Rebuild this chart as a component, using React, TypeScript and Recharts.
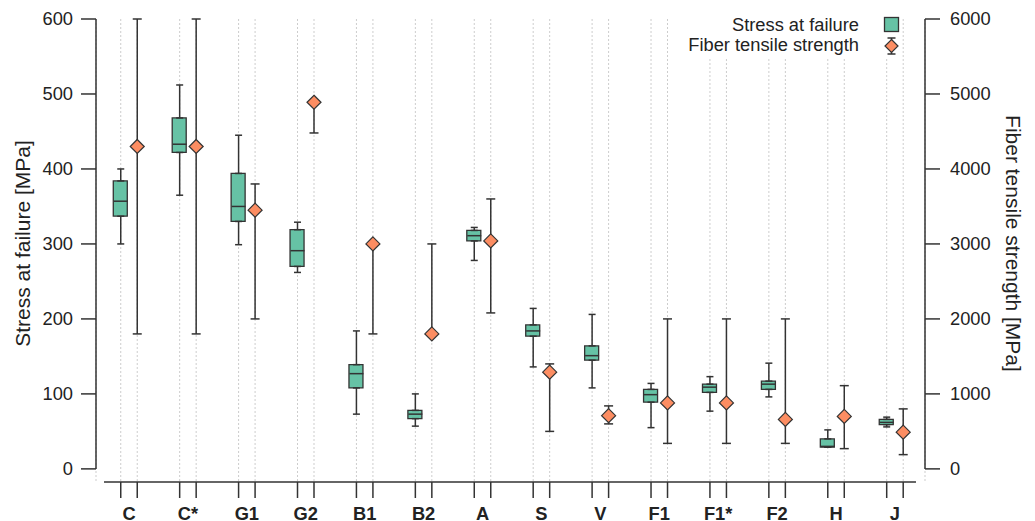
import {
  ComposedChart,
  Bar,
  Scatter,
  ErrorBar,
  XAxis,
  YAxis,
  CartesianGrid,
  ReferenceLine,
} from "recharts"

const categories = ["C", "C*", "G1", "G2", "B1", "B2", "A", "S", "V", "F1", "F1*", "F2", "H", "J"]

// stress at failure [MPa], box plot stats per fiber
const stressMin = [300, 365, 299, 262, 73, 57, 278, 136, 108, 55, 77, 96, 29, 56]
const stressQ1 = [337, 422, 330, 270, 108, 67, 304, 177, 145, 89, 102, 106, 29, 59]
const stressMedian = [357, 433, 350, 291, 127, 73, 311, 184, 151, 99, 109, 113, 30, 62]
const stressQ3 = [384, 468, 394, 319, 139, 78, 318, 192, 164, 106, 113, 117, 40, 66]
const stressMax = [400, 512, 445, 329, 184, 100, 322, 214, 206, 114, 123, 141, 52, 69]

// fiber tensile strength [MPa] with range
const fiberStrength = [4300, 4300, 3450, 4890, 3000, 1800, 3040, 1290, 710, 880, 880, 660, 700, 490]
const fiberLow = [1800, 1800, 2000, 4480, 1800, 1800, 2080, 500, 600, 340, 340, 340, 270, 190]
const fiberHigh = [6000, 6000, 3800, 4890, 3000, 3000, 3600, 1400, 840, 2000, 2000, 2000, 1110, 800]

const stressTicks = [0, 100, 200, 300, 400, 500, 600]
const fiberTicks = [0, 1000, 2000, 3000, 4000, 5000, 6000]

const GREEN = "#66c2a5"
const ORANGE = "#fc8d62"
const INK = "#333"
const TEXT = "#222"

// layout of the x scale (category index units)
const X_DOMAIN: [number, number] = [0.44, 14.51]
const X_LINE: [number, number] = [0.576, 14.357]
const SHIFT = 0.14
const Y_LEFT: [number, number] = [-17.5, 600]
const Y_RIGHT: [number, number] = [-175, 6000]

const rows = categories.map((name, i) => ({
  name,
  xc: i + 1,
  xb: i + 1 - SHIFT,
  xd: i + 1 + SHIFT,
  box: [stressQ1[i], stressQ3[i]],
  q1: stressQ1[i],
  q3: stressQ3[i],
  median: stressMedian[i],
  lowErr: [stressQ1[i] - stressMin[i], 0],
  highErr: [0, stressMax[i] - stressQ3[i]],
  fiber: fiberStrength[i],
  fiberErr: [fiberStrength[i] - fiberLow[i], fiberHigh[i] - fiberStrength[i]],
}))

const subTicks = rows.flatMap(r => [r.xb, r.xd])
const boxTicks = rows.map(r => r.xb)
const catTicks = rows.map(r => r.xc)

const Nothing = () => <g />

const MedianLine = (props: any) => {
  const { cx, cy } = props
  return <line x1={cx - 7} x2={cx + 7} y1={cy} y2={cy} stroke={INK} strokeWidth={1.5} />
}

const Diamond = (props: any) => {
  const { cx, cy } = props
  const r = 7
  return (
    <polygon
      points={`${cx},${cy - r} ${cx + r},${cy} ${cx},${cy + r} ${cx - r},${cy}`}
      fill={ORANGE}
      stroke={INK}
      strokeWidth={1.2}
    />
  )
}

const axisTitle = (text: string, side: "left" | "right") => (props: any) => {
  const { x, y, width, height } = props.viewBox
  const cx = side === "left" ? x + 22 : x + width - 22
  const cy = y + height / 2 - 7
  const angle = side === "left" ? -90 : 90
  return (
    <text
      x={cx}
      y={cy}
      transform={`rotate(${angle} ${cx} ${cy})`}
      textAnchor="middle"
      dominantBaseline="central"
      fontSize={21}
      fill={TEXT}
    >
      {text}
    </text>
  )
}

function Legend() {
  return (
    <div style={{ position: "absolute", left: 700, top: 0, width: 200, height: 57, background: "#fff" }}>
      <div style={{ position: "absolute", right: 41, top: 15, lineHeight: "20px", fontSize: 18.3, color: TEXT, whiteSpace: "nowrap" }}>
        Stress at failure
      </div>
      <div style={{ position: "absolute", right: 41, top: 35, lineHeight: "20px", fontSize: 18.3, color: TEXT, whiteSpace: "nowrap" }}>
        Fiber tensile strength
      </div>
      <svg width={30} height={57} style={{ position: "absolute", left: 177, top: 0 }}>
        <rect x={7.5} y={17.5} width={14} height={14} fill={GREEN} stroke={INK} strokeWidth={1.3} />
        <line x1={14.5} x2={14.5} y1={38} y2={54} stroke={INK} strokeWidth={1.5} />
        <line x1={10.5} x2={18.5} y1={38} y2={38} stroke={INK} strokeWidth={1.5} />
        <line x1={10.5} x2={18.5} y1={54} y2={54} stroke={INK} strokeWidth={1.5} />
        <polygon points="14.5,39.5 21,46 14.5,52.5 8,46" fill={ORANGE} stroke={INK} strokeWidth={1.2} />
      </svg>
    </div>
  )
}

export default function App() {
  return (
    <div
      style={{
        position: "absolute",
        left: 0,
        top: 0,
        width: 1035,
        height: 521,
        background: "#fff",
        fontFamily: "'Liberation Sans', Arial, Helvetica, sans-serif",
      }}
    >
      <ComposedChart width={1035} height={521} data={rows} margin={{ top: 19, right: 0, bottom: 0, left: 0 }}>
        <XAxis
          xAxisId="a_ticks"
          type="number"
          dataKey="xb"
          domain={X_DOMAIN}
          ticks={subTicks}
          interval={0}
          tick={Nothing}
          tickSize={16}
          height={16}
          axisLine={false}
          tickLine={{ stroke: INK, strokeWidth: 1.5 }}
          allowDataOverflow
        />
        <XAxis
          xAxisId="b_labels"
          type="number"
          dataKey="xc"
          domain={X_DOMAIN}
          ticks={catTicks}
          interval={0}
          tickFormatter={(v: number) => categories[Math.round(v) - 1]}
          tickLine={false}
          axisLine={false}
          tickSize={0}
          tickMargin={9}
          height={23}
          tick={{ fill: TEXT, fontSize: 18.3, fontWeight: "bold" }}
          allowDataOverflow
        />
        <XAxis xAxisId="xb" type="number" dataKey="xb" domain={X_DOMAIN} ticks={boxTicks} hide allowDataOverflow />
        <XAxis xAxisId="xd" type="number" dataKey="xd" domain={X_DOMAIN} hide allowDataOverflow />
        <YAxis
          yAxisId="left"
          orientation="left"
          width={96}
          domain={Y_LEFT}
          ticks={stressTicks}
          interval={0}
          allowDataOverflow
          axisLine={false}
          tickSize={15}
          tickMargin={8}
          tickLine={{ stroke: INK, strokeWidth: 1.5 }}
          tick={{ fill: TEXT, fontSize: 18.3 }}
          label={{ content: axisTitle("Stress at failure [MPa]", "left") }}
        />
        <YAxis
          yAxisId="right"
          orientation="right"
          width={110}
          domain={Y_RIGHT}
          ticks={fiberTicks}
          interval={0}
          allowDataOverflow
          axisLine={false}
          tickSize={15}
          tickMargin={10}
          tickLine={{ stroke: INK, strokeWidth: 1.5 }}
          tick={{ fill: TEXT, fontSize: 18.3 }}
          label={{ content: axisTitle("Fiber tensile strength [MPa]", "right") }}
        />
        <CartesianGrid xAxisId="a_ticks" yAxisId="left" horizontal={false} stroke="#cdcdcd" strokeDasharray="2 2" />

        <ReferenceLine
          xAxisId="xb"
          yAxisId="left"
          ifOverflow="visible"
          segment={[{ x: X_DOMAIN[0], y: 0 }, { x: X_DOMAIN[0], y: 600 }]}
          stroke={INK}
          strokeWidth={1.5}
        />
        <ReferenceLine
          xAxisId="xb"
          yAxisId="right"
          ifOverflow="visible"
          segment={[{ x: X_DOMAIN[1], y: 0 }, { x: X_DOMAIN[1], y: 6000 }]}
          stroke={INK}
          strokeWidth={1.5}
        />
        <ReferenceLine
          xAxisId="xb"
          yAxisId="left"
          ifOverflow="visible"
          segment={[{ x: X_LINE[0], y: Y_LEFT[0] }, { x: X_LINE[1], y: Y_LEFT[0] }]}
          stroke={INK}
          strokeWidth={1.5}
        />

        {/* whiskers */}
        <Scatter xAxisId="xb" yAxisId="left" dataKey="q3" shape={Nothing} isAnimationActive={false}>
          <ErrorBar dataKey="highErr" direction="y" width={3.5} stroke={INK} strokeWidth={1.5} />
        </Scatter>
        <Scatter xAxisId="xb" yAxisId="left" dataKey="q1" shape={Nothing} isAnimationActive={false}>
          <ErrorBar dataKey="lowErr" direction="y" width={3.5} stroke={INK} strokeWidth={1.5} />
        </Scatter>

        {/* boxes */}
        <Bar
          xAxisId="xb"
          yAxisId="left"
          dataKey="box"
          barSize={14}
          fill={GREEN}
          stroke={INK}
          strokeWidth={1.3}
          isAnimationActive={false}
        />
        <Scatter xAxisId="xb" yAxisId="left" dataKey="median" shape={MedianLine} isAnimationActive={false} />

        {/* fiber tensile strength */}
        <Scatter xAxisId="xd" yAxisId="right" dataKey="fiber" shape={Diamond} isAnimationActive={false}>
          <ErrorBar dataKey="fiberErr" direction="y" width={4.5} stroke={INK} strokeWidth={1.5} />
        </Scatter>
      </ComposedChart>
      <Legend />
    </div>
  )
}
